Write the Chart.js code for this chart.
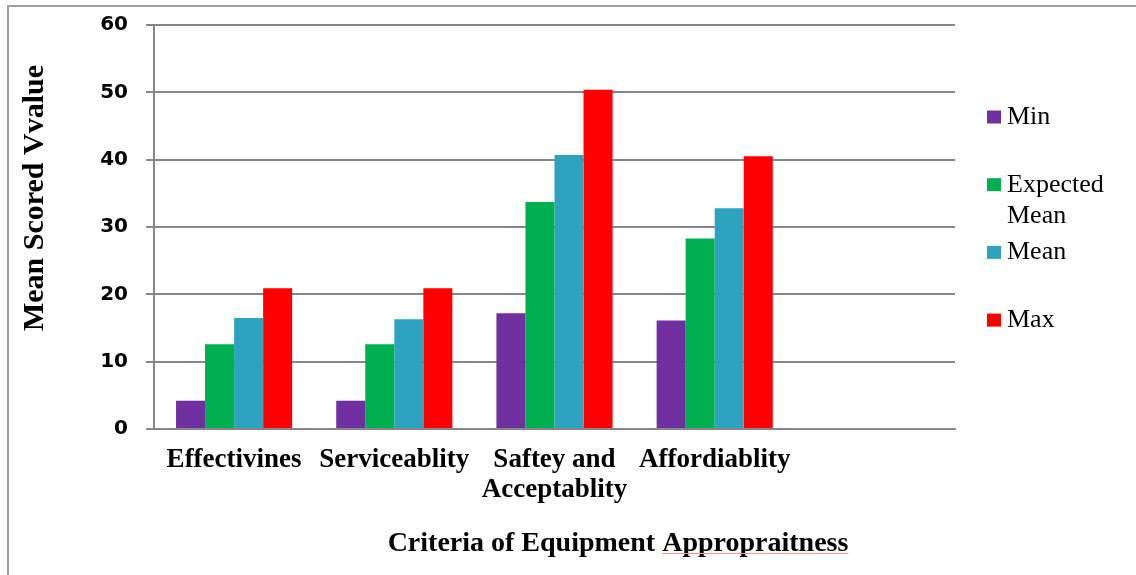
<!DOCTYPE html>
<html>
<head>
<meta charset="utf-8">
<title>Criteria of Equipment Appropraitness</title>
<script src="https://cdn.jsdelivr.net/npm/chart.js@4"></script>
<style>
  html, body { margin: 0; padding: 0; background: #ffffff; }
  #wrap { position: relative; width: 1136px; height: 575px; overflow: hidden; }
  canvas { display: block; }
</style>
</head>
<body>
<div id="wrap"><canvas id="chart" width="1136" height="575"></canvas></div>
<script>
// Criteria along the category axis (multi-line labels given as arrays)
const categories = ['Effectivines', 'Serviceablity', ['Saftey and', 'Acceptablity'], 'Affordiablity'];

// Series names and their scores per criterion
const seriesNames = ['Min', 'Expected Mean', 'Mean', 'Max'];
const minValues = [4.2, 4.2, 17.2, 16.1];
const expectedMeanValues = [12.6, 12.6, 33.7, 28.3];
const meanValues = [16.5, 16.3, 40.7, 32.8];
const maxValues = [20.9, 20.9, 50.4, 40.5];

// Value axis ticks
const yTicks = [0, 10, 20, 30, 40, 50, 60];

const seriesColors = ['#7030a0', '#00b050', '#2ea3c0', '#ff0000'];
const seriesValues = [minValues, expectedMeanValues, meanValues, maxValues];

const yTitle = 'Mean Scored Vvalue';
const xTitle = 'Criteria of Equipment Appropraitness';

const GRID = '#878787';
const SERIF = '"Liberation Serif", "Times New Roman", serif';

// An empty trailing slot keeps the open space on the right of the plot
const labels = categories.concat(['']);

const datasets = seriesNames.map((name, i) => ({
  label: name,
  data: seriesValues[i],
  backgroundColor: seriesColors[i],
  borderWidth: 0,
  categoryPercentage: 0.725,
  barPercentage: 1.0
}));

// Frame, axis titles and legend drawn on the canvas
const decorations = {
  id: 'decorations',
  beforeDraw(chart) {
    const ctx = chart.ctx;
    ctx.save();
    ctx.fillStyle = '#ffffff';
    ctx.fillRect(0, 0, chart.width, chart.height);
    ctx.strokeStyle = '#a0a0a0';
    ctx.lineWidth = 2;
    ctx.strokeRect(8, 6, chart.width + 40, chart.height + 40);
    ctx.restore();
  },
  afterDraw(chart) {
    const ctx = chart.ctx;
    ctx.save();
    ctx.fillStyle = '#000000';

    // value axis title
    ctx.font = 'bold 30px ' + SERIF;
    ctx.textAlign = 'center';
    ctx.textBaseline = 'middle';
    ctx.translate(35, 198);
    ctx.rotate(-Math.PI / 2);
    ctx.fillText(yTitle, 0, 0);
    ctx.setTransform(1, 0, 0, 1, 0, 0);

    // category axis title
    ctx.font = 'bold 28px ' + SERIF;
    ctx.textAlign = 'center';
    ctx.textBaseline = 'alphabetic';
    ctx.fillText(xTitle, 618, 551);
    // spelling underline under the last word
    const full = ctx.measureText(xTitle).width;
    const last = xTitle.split(' ').pop();
    const lw = ctx.measureText(last).width;
    const xEnd = 618 + full / 2;
    ctx.strokeStyle = '#ff9090';
    ctx.lineWidth = 1;
    ctx.beginPath();
    ctx.moveTo(xEnd - lw, 553.5);
    ctx.lineTo(xEnd, 553.5);
    ctx.stroke();

    // legend
    ctx.font = '26px ' + SERIF;
    ctx.textAlign = 'left';
    ctx.textBaseline = 'middle';
    const maxW = 115;
    chart.data.datasets.forEach((ds, i) => {
      const cy = 117 + i * 67.7;
      ctx.fillStyle = ds.backgroundColor;
      ctx.fillRect(987, cy - 6.5, 14, 13);
      ctx.fillStyle = '#000000';
      const words = ds.label.split(' ');
      const lines = [];
      let cur = '';
      words.forEach(w => {
        const t = cur ? cur + ' ' + w : w;
        if (cur && ctx.measureText(t).width > maxW) { lines.push(cur); cur = w; }
        else cur = t;
      });
      lines.push(cur);
      lines.forEach((ln, k) => ctx.fillText(ln, 1007, cy + k * 31));
    });
    ctx.restore();
  }
};

new Chart(document.getElementById('chart'), {
  type: 'bar',
  data: { labels: labels, datasets: datasets },
  plugins: [decorations],
  options: {
    responsive: false,
    animation: false,
    layout: { padding: { left: 0, top: 25, right: 181, bottom: 0 } },
    plugins: {
      legend: { display: false },
      tooltip: { enabled: false },
      title: { display: false }
    },
    scales: {
      x: {
        type: 'category',
        grid: { display: false, drawTicks: false },
        border: { display: true, color: GRID, width: 2 },
        ticks: {
          color: '#000000',
          font: { family: SERIF, size: 27, weight: 'bold', lineHeight: 1.11 },
          padding: 16,
          maxRotation: 0,
          minRotation: 0,
          autoSkip: false
        },
        afterFit(scale) { scale.height = 575 - 429; }
      },
      y: {
        min: 0,
        max: 60,
        afterBuildTicks(scale) { scale.ticks = yTicks.map(v => ({ value: v })); },
        grid: { color: GRID, lineWidth: 2, drawTicks: true, tickLength: 8, tickColor: GRID },
        border: { display: true, color: GRID, width: 2 },
        ticks: {
          color: '#000000',
          font: { family: '"DejaVu Sans", sans-serif', size: 20, weight: 'bold' },
          padding: 18
        },
        afterFit(scale) {
          scale.width = 154;
          scale.paddingTop = 0;
          scale.paddingBottom = 0;
        }
      }
    }
  }
});
</script>
</body>
</html>
